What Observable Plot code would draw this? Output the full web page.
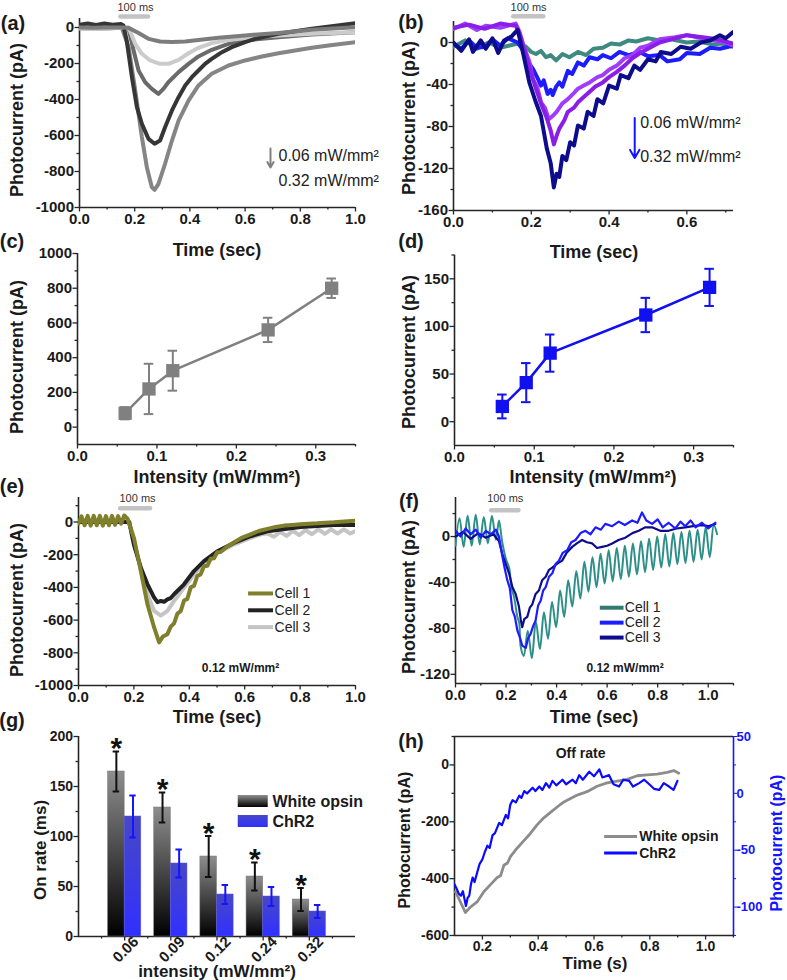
<!DOCTYPE html>
<html><head><meta charset="utf-8">
<script src="https://cdn.jsdelivr.net/npm/d3@7"></script>
<script src="https://cdn.jsdelivr.net/npm/@observablehq/plot@0.6"></script>
<style>
body{margin:0;background:#fff;}
#fig{position:relative;width:787px;height:980px;overflow:hidden;background:#fff;font-family:"Liberation Sans",Arial,sans-serif;color:#1a1a1a;}
.panel{position:absolute;}
.panel svg{overflow:visible;display:block;}
.lbl{position:absolute;white-space:nowrap;font-weight:bold;transform:translate(-50%,-50%);line-height:1;}
.rot{transform:translate(-50%,-50%) rotate(-90deg);}
</style></head>
<body><div id="fig"></div>
<script>
// ================= DATA =================
const intensities = [0.06, 0.09, 0.12, 0.24, 0.32];
const intensityLabels = ["0.06", "0.09", "0.12", "0.24", "0.32"];
const peakWhite = [80, 220, 325, 560, 800];
const peakWhiteErr = [35, 145, 115, 70, 56];
const peakChR2 = [16, 41, 72, 112, 141];
const peakChR2Err = [12.5, 20.5, 19.5, 18, 19.5];
const onWhite = [165, 129, 80, 60, 37];
const onWhiteErr = [20, 15, 20.5, 14, 11.5];
const onChR2 = [120, 73, 42, 40, 25];
const onChR2Err = [21, 14, 9.5, 9.5, 6.5];
const groupNames = ["White opsin", "ChR2"];
const cellNames = ["Cell 1", "Cell 2", "Cell 3"];
const rangeLabels = ["0.06 mW/mm²", "0.32 mW/mm²"];
const doseLabel = "0.12 mW/mm²";
const stimLabel = "100 ms";
const stimWindow = [0.15, 0.25];

// (a) white opsin traces, time (s) / current (pA)
const aDeep = [[0,-5],[0.1,-5],[0.153,0],[0.178,-109],[0.202,-350],[0.226,-609],[0.244,-776],[0.262,-887],[0.272,-902],[0.286,-869],[0.31,-757],[0.335,-628],[0.359,-517],[0.395,-406],[0.431,-322],[0.479,-257],[0.54,-211],[0.6,-183],[0.661,-161],[0.721,-143],[0.781,-128],[0.842,-113],[0.902,-100],[1.0,-81]];
const aDark = [[0,15],[0.03,22],[0.06,14],[0.09,22],[0.12,15],[0.15,20],[0.159,11],[0.171,-72],[0.19,-276],[0.208,-443],[0.226,-535],[0.25,-619],[0.272,-646],[0.292,-628],[0.31,-554],[0.335,-461],[0.359,-387],[0.383,-322],[0.407,-276],[0.431,-239],[0.455,-202],[0.479,-174],[0.516,-137],[0.552,-109],[0.6,-81],[0.636,-63],[0.721,-35],[0.842,-7],[1.0,24]];
const aMid = [[0,0],[0.15,0],[0.178,-7],[0.196,-128],[0.214,-239],[0.238,-304],[0.262,-341],[0.286,-369],[0.304,-341],[0.322,-304],[0.359,-248],[0.395,-202],[0.431,-161],[0.479,-124],[0.54,-91],[0.6,-72],[0.721,-54],[0.842,-39],[1.0,-26]];
const aLight = [[0,-5],[0.1,-5],[0.15,-3],[0.178,-2],[0.202,-91],[0.226,-146],[0.256,-183],[0.292,-202],[0.322,-202],[0.359,-180],[0.395,-143],[0.431,-113],[0.479,-87],[0.54,-69],[0.661,-50],[0.842,-35],[1.0,-26]];
const aShallow = [[0,0],[0.05,-2],[0.1,0],[0.15,0],[0.178,-2],[0.214,-31],[0.25,-63],[0.292,-78],[0.335,-81],[0.383,-78],[0.431,-69],[0.504,-57],[0.6,-44],[0.721,-30],[0.842,-13],[1.0,2]];

// (b) ChR2 traces
const bTeal = [[0,-4],[0.03,2],[0.06,-6],[0.09,0],[0.12,-5],[0.165,-1],[0.186,-4],[0.2,-9],[0.212,-11],[0.225,-8],[0.238,-14],[0.25,-12],[0.264,-17],[0.28,-11],[0.298,-14],[0.32,-9],[0.341,-12],[0.36,-6],[0.384,-5],[0.405,-1],[0.427,-2],[0.45,2],[0.47,1],[0.5,4],[0.53,2],[0.56,3],[0.6,0],[0.63,1],[0.668,-2],[0.69,-1],[0.719,-4]];
const bBlue = [[0,-1],[0.02,-6],[0.04,2],[0.06,-5],[0.083,-4],[0.1,3],[0.12,-3],[0.14,4],[0.165,0],[0.182,-9],[0.195,-20],[0.204,-25],[0.215,-33],[0.225,-41],[0.232,-36],[0.242,-49],[0.25,-45],[0.255,-50],[0.264,-42],[0.272,-38],[0.28,-42],[0.294,-27],[0.305,-30],[0.32,-19],[0.335,-22],[0.35,-14],[0.37,-16],[0.384,-12],[0.405,-15],[0.427,-9],[0.45,-12],[0.478,-9],[0.5,-13],[0.53,-12],[0.55,-18],[0.582,-16],[0.6,-10],[0.633,-11],[0.66,-5],[0.685,-6],[0.719,-3]];
const bViolet = [[0,13],[0.03,18],[0.06,12],[0.083,16],[0.12,14],[0.16,18],[0.17,10],[0.18,-3],[0.195,-18],[0.204,-35],[0.215,-42],[0.225,-57],[0.235,-62],[0.245,-73],[0.255,-70],[0.265,-66],[0.28,-58],[0.294,-54],[0.31,-48],[0.32,-44],[0.335,-41],[0.35,-38],[0.37,-33],[0.384,-31],[0.4,-26],[0.42,-22],[0.44,-15],[0.46,-12],[0.48,-5],[0.5,-3],[0.53,3],[0.57,5],[0.6,7],[0.64,4],[0.668,2],[0.7,0],[0.719,-3]];
const bPurple = [[0,14],[0.04,17],[0.08,13],[0.12,18],[0.16,16],[0.17,8],[0.184,-9],[0.2,-30],[0.212,-44],[0.225,-58],[0.238,-70],[0.25,-84],[0.258,-97],[0.266,-88],[0.272,-82],[0.285,-74],[0.294,-66],[0.31,-62],[0.32,-57],[0.335,-52],[0.35,-47],[0.365,-42],[0.384,-38],[0.4,-33],[0.42,-28],[0.44,-22],[0.46,-15],[0.48,-10],[0.5,-6],[0.53,0],[0.56,3],[0.6,7],[0.64,5],[0.68,3],[0.719,-1]];
const bNavy = [[0,0],[0.02,-8],[0.04,3],[0.05,-9],[0.07,2],[0.083,-6],[0.1,4],[0.115,-10],[0.13,2],[0.15,6],[0.165,12],[0.18,-12],[0.195,-38],[0.21,-55],[0.225,-70],[0.24,-101],[0.25,-115],[0.258,-138],[0.265,-125],[0.272,-128],[0.28,-108],[0.29,-112],[0.3,-95],[0.31,-98],[0.32,-79],[0.335,-82],[0.345,-66],[0.36,-70],[0.37,-54],[0.385,-58],[0.4,-41],[0.42,-44],[0.43,-31],[0.45,-34],[0.465,-22],[0.48,-26],[0.5,-16],[0.52,-18],[0.533,-9],[0.56,-11],[0.584,-4],[0.61,-6],[0.636,0],[0.66,2],[0.685,7],[0.7,4],[0.719,10]];

// (e) white opsin cells at 0.12 mW/mm²
const eCell1 = [[0,-10],[0.011,35],[0.022,-20],[0.033,38],[0.044,-22],[0.055,38],[0.066,-20],[0.077,38],[0.088,-22],[0.099,36],[0.11,-20],[0.121,38],[0.132,-18],[0.143,36],[0.154,-10],[0.165,40],[0.177,20],[0.2,-97],[0.225,-300],[0.249,-503],[0.273,-645],[0.291,-736],[0.305,-700],[0.321,-686],[0.333,-640],[0.345,-620],[0.357,-560],[0.369,-545],[0.381,-480],[0.393,-470],[0.405,-400],[0.417,-390],[0.429,-330],[0.441,-320],[0.453,-270],[0.465,-268],[0.477,-225],[0.489,-222],[0.501,-185],[0.513,-183],[0.537,-150],[0.561,-125],[0.591,-95],[0.621,-75],[0.651,-55],[0.682,-42],[0.712,-30],[0.742,-22],[0.772,-18],[0.802,-14],[0.832,-10],[0.862,-8],[0.892,-4],[0.922,-2],[0.96,3],[1.0,8]];
const eCell2 = [[0,0],[0.1,0],[0.183,0],[0.2,-138],[0.225,-280],[0.249,-381],[0.273,-462],[0.285,-490],[0.297,-483],[0.309,-488],[0.321,-473],[0.333,-465],[0.345,-442],[0.381,-381],[0.417,-300],[0.453,-239],[0.501,-179],[0.561,-128],[0.621,-87],[0.682,-57],[0.802,-30],[0.922,-18],[1.0,-18]];
const eCell3 = [[0,0],[0.1,0],[0.183,0],[0.2,-118],[0.225,-280],[0.249,-442],[0.273,-544],[0.297,-572],[0.321,-544],[0.345,-483],[0.381,-402],[0.417,-320],[0.453,-249],[0.501,-189],[0.561,-138],[0.621,-97],[0.659,-75],[0.682,-70],[0.705,-90],[0.728,-60],[0.751,-85],[0.774,-55],[0.797,-80],[0.82,-50],[0.843,-75],[0.866,-45],[0.889,-72],[0.912,-45],[0.935,-70],[0.958,-45],[0.981,-70],[1.0,-55]];

// (f) ChR2 cells at 0.12 mW/mm²
const fCell1 = [[0,-8],[0.016,16],[0.032,-9],[0.048,18],[0.064,-8],[0.08,19],[0.096,-7],[0.112,17],[0.128,-6],[0.144,18],[0.16,-3],[0.172,14],[0.185,-5],[0.2,-20],[0.212,-27],[0.222,-45],[0.232,-53],[0.245,-70],[0.252,-75],[0.258,-96],[0.27,-104],[0.286,-82],[0.302,-106],[0.318,-74],[0.334,-98],[0.35,-66],[0.366,-89],[0.382,-57],[0.398,-79],[0.414,-47],[0.43,-70],[0.446,-38],[0.462,-61],[0.478,-30],[0.494,-54],[0.51,-22],[0.526,-48],[0.542,-18],[0.558,-44],[0.574,-15],[0.59,-41],[0.606,-12],[0.622,-39],[0.638,-10],[0.654,-37],[0.67,-8],[0.686,-35],[0.702,-6],[0.718,-33],[0.734,-4],[0.75,-31],[0.766,-2],[0.782,-29],[0.798,0],[0.814,-27],[0.83,2],[0.846,-26],[0.862,3],[0.878,-24],[0.894,4],[0.91,-23],[0.926,5],[0.942,-22],[0.958,6],[0.974,-20],[0.99,8],[1.006,-18],[1.022,10],[1.035,2]];
const fCell2 = [[0,5],[0.02,0],[0.04,7],[0.06,2],[0.08,6],[0.1,-1],[0.12,5],[0.14,2],[0.16,6],[0.172,0],[0.186,-18],[0.195,-28],[0.205,-38],[0.215,-45],[0.225,-64],[0.235,-70],[0.245,-82],[0.255,-88],[0.264,-95],[0.278,-97],[0.288,-88],[0.297,-85],[0.307,-78],[0.317,-73],[0.327,-60],[0.337,-56],[0.347,-47],[0.357,-44],[0.37,-35],[0.383,-32],[0.396,-24],[0.409,-21],[0.425,-14],[0.442,-12],[0.458,-5],[0.475,-3],[0.495,3],[0.514,5],[0.534,2],[0.554,8],[0.575,6],[0.593,11],[0.62,9],[0.646,13],[0.67,10],[0.699,14],[0.72,12],[0.738,21],[0.755,14],[0.778,11],[0.8,15],[0.82,8],[0.843,12],[0.87,7],[0.89,13],[0.909,9],[0.93,14],[0.95,8],[0.975,12],[1.0,7],[1.028,12]];
const fCell3 = [[0,0],[0.03,4],[0.06,-2],[0.09,3],[0.12,-1],[0.15,2],[0.172,-4],[0.185,-15],[0.199,-24],[0.212,-32],[0.225,-44],[0.238,-50],[0.251,-61],[0.258,-72],[0.264,-79],[0.272,-72],[0.284,-70],[0.294,-62],[0.304,-59],[0.317,-50],[0.33,-47],[0.343,-38],[0.357,-35],[0.37,-29],[0.383,-27],[0.4,-24],[0.422,-21],[0.44,-14],[0.462,-9],[0.48,-6],[0.501,-3],[0.52,-5],[0.541,-6],[0.56,-10],[0.58,-9],[0.6,-8],[0.62,-6],[0.645,-3],[0.672,-1],[0.7,3],[0.725,5],[0.75,8],[0.778,8],[0.81,5],[0.843,5],[0.875,7],[0.909,8],[0.94,9],[0.975,10],[1.0,9],[1.028,11]];

// (h) off rate: white opsin (left axis, pA) and ChR2 (right axis, pA)
const hWhite = [[0.1035,-446],[0.121,-482],[0.139,-519],[0.157,-500],[0.181,-482],[0.205,-446],[0.229,-421],[0.253,-396],[0.265,-390],[0.277,-353],[0.29,-345],[0.301,-322],[0.325,-292],[0.348,-267],[0.372,-241],[0.396,-211],[0.42,-186],[0.444,-167],[0.468,-148],[0.492,-130],[0.516,-118],[0.54,-106],[0.575,-94],[0.611,-75],[0.647,-63],[0.683,-57],[0.719,-51],[0.755,-38],[0.79,-35],[0.826,-32],[0.862,-26],[0.886,-20],[0.904,-29]];
const hChR2 = [[0.1,-80],[0.106,-83],[0.115,-88],[0.123,-90],[0.13,-86],[0.141,-99],[0.147,-92],[0.153,-90],[0.159,-80],[0.165,-74],[0.172,-78],[0.183,-68],[0.19,-62],[0.2,-58],[0.208,-52],[0.218,-46],[0.226,-48],[0.236,-37],[0.245,-35],[0.26,-26],[0.27,-28],[0.284,-19],[0.292,-22],[0.3,-10],[0.308,-6],[0.32,-8],[0.332,-2],[0.34,-4],[0.35,2],[0.36,0],[0.38,5],[0.39,2],[0.404,6],[0.415,3],[0.428,9],[0.44,5],[0.451,11],[0.465,7],[0.487,12],[0.5,8],[0.523,12],[0.535,9],[0.547,16],[0.56,12],[0.583,19],[0.6,15],[0.619,21],[0.63,14],[0.654,16],[0.67,8],[0.69,6],[0.705,12],[0.726,11],[0.74,6],[0.762,9],[0.78,12],[0.798,8],[0.815,4],[0.834,3],[0.85,9],[0.869,6],[0.885,3],[0.899,11]];

// ================= HELPERS =================
const FONT = '"Liberation Sans", Arial, sans-serif';
const fig = document.getElementById("fig");
const fmt1 = d => d.toFixed(1);
const fmtInt = d => String(d);
const AX = "#262626";
const BLUE = "#1414ff";

function place(svg, left, top) {
  const d = document.createElement("div");
  d.className = "panel"; d.style.left = left + "px"; d.style.top = top + "px";
  d.appendChild(svg); fig.appendChild(d); return svg;
}
function label(text, x, y, o = {}) {
  const d = document.createElement("div");
  d.className = "lbl" + (o.rotate ? " rot" : "");
  d.style.left = x + "px"; d.style.top = y + "px";
  d.style.fontSize = (o.size || 18) + "px";
  d.style.color = o.color || "#1a1a1a";
  d.style.fontWeight = o.weight || "bold";
  d.textContent = text; fig.appendChild(d);
}
function frameAxes(o) {
  const ax = {stroke: AX, strokeWidth: 1.3, label: null};
  return [
    Plot.axisX(o.xm, {...ax, tickSize: 2.5, tickFormat: () => ""}),
    Plot.axisY(o.ym, {...ax, tickSize: 2.5, tickFormat: () => ""}),
    Plot.axisX(o.xt, {...ax, tickSize: 4.5, tickPadding: 1, tickFormat: o.xf || fmt1, fill: "#1a1a1a", fontSize: o.fs || 15, fontWeight: "bold"}),
    Plot.axisY(o.yt, {...ax, tickSize: 4.5, tickPadding: 1, tickFormat: o.yf || fmtInt, fill: "#1a1a1a", fontSize: o.fs || 15, fontWeight: "bold"}),
    Plot.ruleX([o.xd[0]], {stroke: AX, strokeWidth: 1.6}),
    Plot.ruleY([o.yd[0]], {stroke: AX, strokeWidth: 1.6})
  ];
}
function mkPlot(o) {
  return Plot.plot({
    width: o.w, height: o.h,
    marginLeft: o.m[0], marginRight: o.m[1], marginTop: o.m[2], marginBottom: o.m[3],
    x: {domain: o.xd}, y: {domain: o.yd},
    style: {fontFamily: FONT, fontSize: "15px", fontWeight: "bold", color: "#1a1a1a", background: "none", overflow: "visible"},
    marks: o.marks
  });
}
const trace = (d, c, w) => Plot.line(d, {x: p => p[0], y: p => p[1], stroke: c, strokeWidth: w, strokeLinejoin: "round", clip: true});
const stimBar = (y, x1, x2) => Plot.ruleY([y], {x1, x2, stroke: "#c3c3c3", strokeWidth: 4.5, strokeLinecap: "round"});
const stimText = (x, y) => Plot.text([stimLabel], {x, y, fontSize: 11, fontWeight: "normal", fill: "#333"});

// ================= (a) =================
{
  const xd = [0, 1], yd = [-1000, 50];
  const svg = mkPlot({w: 393, h: 235, m: [79, 38, 18, 28], xd, yd, marks: [
    ...frameAxes({xd, yd, xt: [0,0.2,0.4,0.6,0.8,1], xm: [0.1,0.3,0.5,0.7,0.9], yt: [-1000,-800,-600,-400,-200,0], ym: [-900,-700,-500,-300,-100]}),
    trace(aDeep, "#858585", 4),
    trace(aMid, "#6a6a6a", 4),
    trace(aLight, "#cbcbcb", 4),
    trace(aDark, "#363636", 4),
    trace(aShallow, "#7c7c7c", 4),
    stimBar(61, stimWindow[0], stimWindow[1]),
    stimText(0.203, 111),
    Plot.arrow([0], {x1: 0.692, y1: -672, x2: 0.692, y2: -778, stroke: "#808080", strokeWidth: 2, headLength: 7}),
    Plot.text([rangeLabels[0]], {x: 0.721, y: -711, textAnchor: "start", fontSize: 16, fontWeight: "normal", fill: "#222"}),
    Plot.text([rangeLabels[1]], {x: 0.721, y: -850, textAnchor: "start", fontSize: 16, fontWeight: "normal", fill: "#222"})
  ]});
  place(svg, 0, 0);
}
// ================= (b) =================
{
  const xd = [0, 0.72], yd = [-160, 20];
  const svg = mkPlot({w: 394, h: 235, m: [60, 54, 21, 25], xd, yd, marks: [
    ...frameAxes({xd, yd, xt: [0,0.2,0.4,0.6], xm: [0.1,0.3,0.5,0.7], yt: [-160,-120,-80,-40,0], ym: [-140,-100,-60,-20]}),
    trace(bTeal, "#3f8a80", 4),
    trace(bBlue, "#1c1cff", 4),
    trace(bViolet, "#a03cff", 4),
    trace(bPurple, "#8a1ee6", 4),
    trace(bNavy, "#0c0c8c", 4),
    stimBar(25, 0.155, 0.232),
    stimText(0.193, 33),
    Plot.arrow([0], {x1: 0.466, y1: -72, x2: 0.466, y2: -110, stroke: BLUE, strokeWidth: 2, headLength: 7}),
    Plot.text([rangeLabels[0]], {x: 0.48, y: -77, textAnchor: "start", fontSize: 16, fontWeight: "normal", fill: "#222"}),
    Plot.text([rangeLabels[1]], {x: 0.48, y: -109, textAnchor: "start", fontSize: 16, fontWeight: "normal", fill: "#222"})
  ]});
  place(svg, 393, 0);
}
// ================= (c) & (d) =================
function doseResponse(mean, err, color, cfg) {
  const rows = intensities.map((x, i) => ({x, y: mean[i], lo: mean[i] - err[i], hi: mean[i] + err[i]}));
  const cap = 0.006;
  return [
    ...frameAxes(cfg),
    Plot.line(rows, {x: "x", y: "y", stroke: color, strokeWidth: 2.5}),
    Plot.ruleX(rows, {x: "x", y1: "lo", y2: "hi", stroke: color, strokeWidth: 2}),
    Plot.ruleY(rows, {y: "hi", x1: d => d.x - cap, x2: d => d.x + cap, stroke: color, strokeWidth: 2}),
    Plot.ruleY(rows, {y: "lo", x1: d => d.x - cap, x2: d => d.x + cap, stroke: color, strokeWidth: 2}),
    Plot.dot(rows, {x: "x", y: "y", symbol: "square", r: 7.5, fill: color, stroke: null})
  ];
}
{
  const xd = [0, 0.35], yd = [-100, 1000];
  const svg = mkPlot({w: 393, h: 235, m: [77, 38, 18, 26], xd, yd,
    marks: doseResponse(peakWhite, peakWhiteErr, "#808080", {xd, yd, xt: [0,0.1,0.2,0.3], xm: [0.05,0.15,0.25,0.35], yt: [0,200,400,600,800,1000], ym: [100,300,500,700,900]})});
  place(svg, 0, 235);
}
{
  const xd = [0, 0.35], yd = [-25, 175];
  const svg = mkPlot({w: 394, h: 235, m: [61, 54, 19.5, 25], xd, yd,
    marks: doseResponse(peakChR2, peakChR2Err, "#1010f0", {xd, yd, xt: [0,0.1,0.2,0.3], xm: [0.05,0.15,0.25,0.35], yt: [0,50,100,150], ym: [25,75,125,175]})});
  place(svg, 393, 235);
}
// ================= (e) =================
{
  const xd = [0, 1], yd = [-1000, 150];
  const cols = ["#7f7f2c", "#222222", "#c4c4c4"];
  const ly = [-437, -540, -643];
  const svg = mkPlot({w: 393, h: 240, m: [78, 38, 27, 25], xd, yd, marks: [
    ...frameAxes({xd, yd, xt: [0,0.2,0.4,0.6,0.8,1], xm: [0.1,0.3,0.5,0.7,0.9], yt: [-1000,-800,-600,-400,-200,0], ym: [-900,-700,-500,-300,-100,100]}),
    trace(eCell3, cols[2], 4),
    trace(eCell2, cols[1], 4),
    trace(eCell1, cols[0], 4),
    stimBar(85, 0.152, 0.26),
    stimText(0.213, 146),
    ...cellNames.map((n, i) => Plot.ruleY([ly[i]], {x1: 0.614, x2: 0.704, stroke: cols[i], strokeWidth: 4})),
    ...cellNames.map((n, i) => Plot.text([n], {x: 0.708, y: ly[i], textAnchor: "start", fontSize: 14, fontWeight: "normal", fill: "#222"})),
    Plot.text([doseLabel], {x: 0.585, y: -896, fontSize: 12, fontWeight: "bold", fill: "#1a1a1a"})
  ]});
  place(svg, 0, 470);
}
// ================= (f) =================
{
  const xd = [0, 1.1], yd = [-128, 34];
  const cols = ["#2e8f88", "#1c1cff", "#0c0c8c"];
  const lcols = ["#357a70", "#1c1cff", "#0c0c8c"];
  const ly = [-62, -75, -88];
  const svg = mkPlot({w: 394, h: 240, m: [62, 54, 27, 27], xd, yd, marks: [
    ...frameAxes({xd, yd, xt: [0,0.2,0.4,0.6,0.8,1], xm: [0.1,0.3,0.5,0.7,0.9,1.1], yt: [-120,-80,-40,0], ym: [-100,-60,-20,20]}),
    Plot.line(fCell1, {x: p => p[0], y: p => p[1], stroke: cols[0], strokeWidth: 2, curve: "catmull-rom", clip: true}),
    trace(fCell3, cols[2], 2.2),
    trace(fCell2, cols[1], 2.2),
    stimBar(23, 0.143, 0.251),
    stimText(0.197, 33),
    ...cellNames.map((n, i) => Plot.ruleY([ly[i]], {x1: 0.573, x2: 0.667, stroke: lcols[i], strokeWidth: 4})),
    ...cellNames.map((n, i) => Plot.text([n], {x: 0.67, y: ly[i], textAnchor: "start", fontSize: 14, fontWeight: "normal", fill: "#222"})),
    Plot.text([doseLabel], {x: 0.671, y: -115, fontSize: 12, fontWeight: "bold", fill: "#1a1a1a"})
  ]});
  place(svg, 393, 470);
}
// ================= (g) =================
{
  const xd = [0, 6], yd = [0, 200];
  const rows = intensityLabels.map((c, i) => ({c, i: i + 1, w: onWhite[i], we: onWhiteErr[i], b: onChR2[i], be: onChR2Err[i]}));
  const bw = 0.36, cap = 0.07;
  const wx = d => d.i - bw / 2, bx = d => d.i + bw / 2;
  const svg = mkPlot({w: 393, h: 270, m: [78, 38, 26, 44], xd, yd, marks: [
    ...frameAxes({xd, yd, xt: [1,2,3,4,5], xm: [0.5,1.5,2.5,3.5,4.5,5.5], xf: () => "", yt: [0,50,100,150,200], ym: [25,75,125,175], fs: 14}),
    Plot.rect(rows, {x1: d => d.i - bw, x2: d => d.i, y1: 0, y2: "w", fill: "url(#gradWhite)", stroke: "#777", strokeWidth: 0.5}),
    Plot.rect(rows, {x1: d => d.i, x2: d => d.i + bw, y1: 0, y2: "b", fill: "url(#gradBlue)", stroke: "#5555dd", strokeWidth: 0.5}),
    Plot.ruleX(rows, {x: wx, y1: d => d.w - d.we, y2: d => d.w + d.we, stroke: "#111", strokeWidth: 2}),
    Plot.ruleY(rows, {y: d => d.w + d.we, x1: d => wx(d) - cap, x2: d => wx(d) + cap, stroke: "#111", strokeWidth: 2}),
    Plot.ruleY(rows, {y: d => d.w - d.we, x1: d => wx(d) - cap, x2: d => wx(d) + cap, stroke: "#111", strokeWidth: 2}),
    Plot.ruleX(rows, {x: bx, y1: d => d.b - d.be, y2: d => d.b + d.be, stroke: BLUE, strokeWidth: 2}),
    Plot.ruleY(rows, {y: d => d.b + d.be, x1: d => bx(d) - cap, x2: d => bx(d) + cap, stroke: BLUE, strokeWidth: 2}),
    Plot.ruleY(rows, {y: d => d.b - d.be, x1: d => bx(d) - cap, x2: d => bx(d) + cap, stroke: BLUE, strokeWidth: 2}),
    Plot.text(rows, {x: wx, y: d => d.w + d.we, text: () => "*", fontSize: 30, fontWeight: "bold", dy: -3, fill: "#111"}),
    Plot.text(rows, {x: "i", y: 0, text: "c", rotate: -45, dy: 13, dx: 1, fontSize: 15, fontWeight: "bold", fill: "#1a1a1a"}),
    Plot.rect([0], {x1: 3.46, x2: 4.11, y1: 129, y2: 141, fill: "url(#gradWhite)"}),
    Plot.rect([0], {x1: 3.46, x2: 4.11, y1: 109, y2: 121, fill: "url(#gradBlue)"}),
    Plot.text([groupNames[0]], {x: 4.2, y: 135, textAnchor: "start", fontSize: 16, fontWeight: "bold", fill: "#1a1a1a"}),
    Plot.text([groupNames[1]], {x: 4.2, y: 115, textAnchor: "start", fontSize: 16, fontWeight: "bold", fill: "#1a1a1a"})
  ]});
  const defs = d3.select(svg).insert("defs", ":first-child");
  const g1 = defs.append("linearGradient").attr("id", "gradWhite").attr("x1", 0).attr("y1", 0).attr("x2", 0).attr("y2", 1);
  g1.append("stop").attr("offset", "0%").attr("stop-color", "#8e8e8e");
  g1.append("stop").attr("offset", "100%").attr("stop-color", "#000000");
  const g2 = defs.append("linearGradient").attr("id", "gradBlue").attr("x1", 0).attr("y1", 0).attr("x2", 0).attr("y2", 1);
  g2.append("stop").attr("offset", "0%").attr("stop-color", "#4848c4");
  g2.append("stop").attr("offset", "100%").attr("stop-color", "#3030ff");
  place(svg, 0, 710);
}
// ================= (h) =================
{
  const xd = [0.1, 1.1], yd = [-600, 100];
  const toLeft = v => 4 * v - 100; // right axis [-125,50] onto left axis [-600,100]
  const svg = mkPlot({w: 394, h: 270, m: [61, 54, 26, 45], xd, yd, marks: [
    ...frameAxes({xd, yd, xt: [0.2,0.4,0.6,0.8,1.0], xm: [0.3,0.5,0.7,0.9,1.1], yt: [-600,-400,-200,0], ym: [-500,-300,-100,100], fs: 14}),
    Plot.ruleY([yd[1]], {stroke: AX, strokeWidth: 1.4}),
    Plot.ruleX([xd[1]], {stroke: BLUE, strokeWidth: 1.6}),
    Plot.axisY([-500,-300,-100,100], {anchor: "right", tickSize: 3, tickPadding: 0, tickFormat: d => String((d + 100) / 4), stroke: BLUE, fill: BLUE, color: BLUE, label: null, fontSize: 13, fontWeight: "bold"}),
    Plot.axisY([-600,-400,-200,0], {anchor: "right", tickSize: 2, tickFormat: () => "", stroke: BLUE, color: BLUE, label: null}),
    trace(hWhite, "#8c8c8c", 2.8),
    Plot.line(hChR2, {x: p => p[0], y: p => toLeft(p[1]), stroke: "#0a0aff", strokeWidth: 2.2, clip: true}),
    Plot.ruleY([-252], {x1: 0.638, x2: 0.756, stroke: "#8c8c8c", strokeWidth: 3}),
    Plot.ruleY([-310], {x1: 0.638, x2: 0.756, stroke: "#0a0aff", strokeWidth: 3}),
    Plot.text([groupNames[0]], {x: 0.762, y: -252, textAnchor: "start", fontSize: 14, fontWeight: "bold", fill: "#1a1a1a"}),
    Plot.text([groupNames[1]], {x: 0.762, y: -310, textAnchor: "start", fontSize: 14, fontWeight: "bold", fill: "#1a1a1a"}),
    Plot.text(["Off rate"], {x: 0.552, y: 41, fontSize: 14, fontWeight: "bold", fill: "#1a1a1a"})
  ]});
  place(svg, 393, 710);
}

// ================= TITLES & PANEL LETTERS =================
const letters = [["(a)",13,23],["(b)",411,22],["(c)",12,241],["(d)",411,241],["(e)",12,486],["(f)",409,501],["(g)",12,720],["(h)",411,741]];
letters.forEach(([t, x, y]) => label(t, x, y, {size: 20}));
label("Photocurrent (pA)", 17, 120, {rotate: true, size: 18});
label("Photocurrent (pA)", 409, 118, {rotate: true, size: 18});
label("Photocurrent (pA)", 17, 357, {rotate: true, size: 18});
label("Photocurrent (pA)", 409, 352, {rotate: true, size: 18});
label("Photocurrent (pA)", 17, 600, {rotate: true, size: 18});
label("Photocurrent (pA)", 409, 597, {rotate: true, size: 18});
label("On rate (ms)", 40, 850, {rotate: true, size: 17});
label("Photocurrent (pA)", 405, 840, {rotate: true, size: 16});
label("Photocurrent (pA)", 777, 843, {rotate: true, size: 16, color: BLUE});
label("Time (sec)", 217, 250, {size: 18});
label("Time (sec)", 594, 252, {size: 18});
label("Intensity (mW/mm²)", 217, 477, {size: 18});
label("Intensity (mW/mm²)", 593, 477, {size: 18});
label("Time (sec)", 217, 717, {size: 18});
label("Time (sec)", 594, 717, {size: 18});
label("intensity (mW/mm²)", 217, 971, {size: 17});
label("Time (s)", 595, 963, {size: 17});
</script>
</body></html>
